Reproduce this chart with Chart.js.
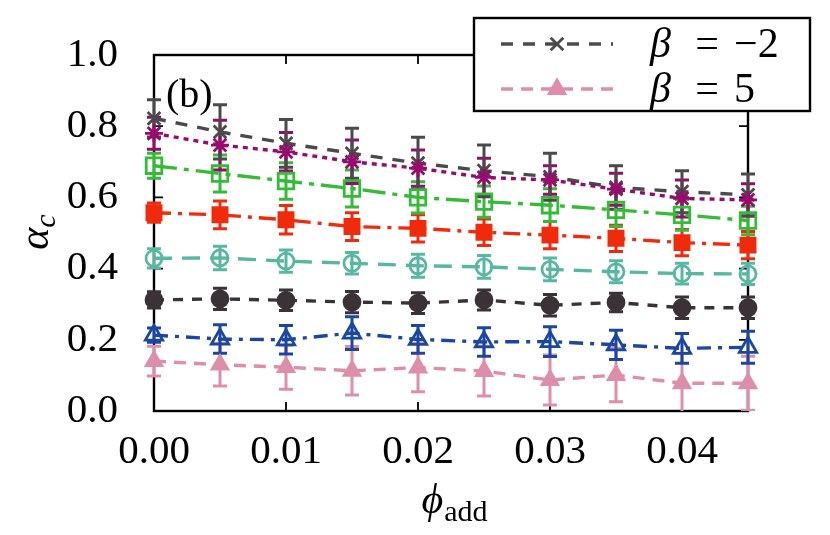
<!DOCTYPE html>
<html>
<head>
<meta charset="utf-8">
<script src="https://cdn.jsdelivr.net/npm/chart.js@4/dist/chart.umd.min.js"></script>
<style>
  body { margin: 0; background: #fff; }
  #wrap { width: 830px; height: 535px; }
</style>
</head>
<body>
<div id="wrap"><canvas id="alphaChart" width="830" height="535"></canvas></div>
<script>
// phi_add values (x)
const phiAdd = [0, 0.005, 0.01, 0.015, 0.02, 0.025, 0.03, 0.035, 0.04, 0.045];

// alpha_c for each curve, top to bottom, with error half-widths
const grayVals   = [0.822, 0.784, 0.752, 0.724, 0.696, 0.675, 0.658, 0.628, 0.616, 0.607];
const grayErr    = [0.052, 0.076, 0.067, 0.070, 0.073, 0.072, 0.066, 0.061, 0.059, 0.059];
const purpleVals = [0.780, 0.747, 0.728, 0.700, 0.682, 0.656, 0.649, 0.623, 0.597, 0.593];
const purpleErr  = [0.045, 0.070, 0.054, 0.061, 0.051, 0.054, 0.040, 0.045, 0.052, 0.045];
const greenVals  = [0.689, 0.667, 0.646, 0.625, 0.600, 0.588, 0.578, 0.565, 0.551, 0.535];
const greenErr   = [0.035, 0.052, 0.051, 0.052, 0.044, 0.044, 0.046, 0.047, 0.043, 0.040];
const redVals    = [0.557, 0.551, 0.537, 0.518, 0.513, 0.502, 0.494, 0.485, 0.473, 0.466];
const redErr     = [0.027, 0.039, 0.040, 0.039, 0.038, 0.037, 0.038, 0.037, 0.037, 0.038];
const tealVals   = [0.429, 0.430, 0.421, 0.415, 0.408, 0.405, 0.398, 0.391, 0.386, 0.385];
const tealErr    = [0.027, 0.033, 0.031, 0.030, 0.032, 0.032, 0.032, 0.031, 0.029, 0.030];
const darkVals   = [0.312, 0.315, 0.311, 0.306, 0.303, 0.312, 0.297, 0.305, 0.290, 0.290];
const darkErr    = [0.023, 0.030, 0.029, 0.030, 0.029, 0.028, 0.030, 0.026, 0.030, 0.030];
const blueVals   = [0.213, 0.202, 0.200, 0.219, 0.201, 0.194, 0.195, 0.186, 0.176, 0.179];
const blueErr    = [0.020, 0.040, 0.040, 0.046, 0.039, 0.040, 0.042, 0.041, 0.042, 0.045];
const pinkVals   = [0.140, 0.130, 0.123, 0.113, 0.122, 0.112, 0.087, 0.101, 0.078, 0.078];
const pinkErr    = [0.042, 0.060, 0.062, 0.068, 0.068, 0.070, 0.070, 0.075, 0.084, 0.076];

const yTicks = [0.0, 0.2, 0.4, 0.6, 0.8, 1.0];
const xTicks = [0.00, 0.01, 0.02, 0.03, 0.04];
const legendLabels = { gray: '\u22122', pink: '5' }; // beta values

const FONT = '"Liberation Serif", "DejaVu Serif", serif';

function series(id, vals, errs, color, style, radius, dash, filled, legend) {
  return {
    id: id,
    label: legend || '',
    data: phiAdd.map((x, i) => ({ x: x, y: vals[i] })),
    errors: errs,
    borderColor: color,
    borderWidth: 3.4,
    borderDash: dash,
    pointStyle: style,
    pointRadius: radius,
    pointBorderWidth: 2.8,
    pointBorderColor: color,
    pointBackgroundColor: filled ? color : 'rgba(0,0,0,0)',
    fill: false,
    tension: 0,
    clip: false
  };
}

const datasets = [
  series('pink',   pinkVals,   pinkErr,   '#dd8ea9', 'triangle',  9,  [12, 8],         true,  legendLabels.pink),
  series('blue',   blueVals,   blueErr,   '#1b47a3', 'triangle',  10, [14, 7, 4, 7],   false),
  series('dark',   darkVals,   darkErr,   '#3a3237', 'circle',    8,  [10, 9],         true),
  series('teal',   tealVals,   tealErr,   '#57b7a2', 'circle',    8,  [18, 10],        false),
  series('red',    redVals,    redErr,    '#f02b0c', 'rect',      10, [17, 7, 4, 7],   true),
  series('green',  greenVals,  greenErr,  '#35bb38', 'rect',      11, [23, 7, 5, 7],   false),
  series('purple', purpleVals, purpleErr, '#980a6e', 'star',      9,  [5, 5],          true),
  series('gray',   grayVals,   grayErr,   '#4a4a4a', 'crossRot',  9,  [12, 10],        true,  legendLabels.gray)
];

// frame with inward ticks, drawn under the data
const framePlugin = {
  id: 'frame',
  beforeDatasetsDraw(chart) {
    const { ctx, chartArea: a, scales } = chart;
    ctx.save();
    ctx.strokeStyle = '#000';
    ctx.lineWidth = 1.8;
    const tl = 9;
    xTicks.forEach(v => {
      const px = scales.x.getPixelForValue(v);
      ctx.beginPath();
      ctx.moveTo(px, a.bottom); ctx.lineTo(px, a.bottom - tl);
      ctx.moveTo(px, a.top); ctx.lineTo(px, a.top + tl);
      ctx.stroke();
    });
    yTicks.forEach(v => {
      const py = scales.y.getPixelForValue(v);
      ctx.beginPath();
      ctx.moveTo(a.left, py); ctx.lineTo(a.left + tl, py);
      ctx.moveTo(a.right, py); ctx.lineTo(a.right - tl, py);
      ctx.stroke();
    });
    ctx.lineWidth = 2.4;
    ctx.strokeRect(a.left, a.top, a.right - a.left, a.bottom - a.top);
    ctx.restore();
  }
};

// error bars from the y scale
const errorBarPlugin = {
  id: 'errbars',
  beforeDatasetsDraw(chart) {
    const { ctx, chartArea: a, scales } = chart;
    ctx.save();
    ctx.beginPath();
    ctx.rect(a.left - 20, a.top - 20, a.right - a.left + 40, a.bottom - a.top + 20);
    ctx.clip();
    chart.data.datasets.forEach(ds => {
      ctx.strokeStyle = ds.borderColor;
      ctx.lineWidth = 3;
      ds.data.forEach((p, i) => {
        const px = scales.x.getPixelForValue(p.x);
        const hi = scales.y.getPixelForValue(p.y + ds.errors[i]);
        const lo = scales.y.getPixelForValue(p.y - ds.errors[i]);
        const cap = 7;
        ctx.beginPath();
        ctx.moveTo(px, hi); ctx.lineTo(px, lo);
        ctx.moveTo(px - cap, hi); ctx.lineTo(px + cap, hi);
        ctx.moveTo(px - cap, lo); ctx.lineTo(px + cap, lo);
        ctx.stroke();
      });
    });
    ctx.restore();
  }
};

// axis titles, panel tag and legend box
const textPlugin = {
  id: 'texts',
  afterDraw(chart) {
    const { ctx } = chart;
    ctx.save();
    ctx.fillStyle = '#000';
    ctx.textBaseline = 'alphabetic';

    // (b)
    ctx.font = '40px ' + FONT;
    ctx.textAlign = 'left';
    ctx.fillText('(b)', 166, 107);

    // x title: phi_add
    ctx.font = 'italic 42px ' + FONT;
    const phiW = ctx.measureText('\u03d5').width;
    ctx.font = '30px ' + FONT;
    const addW = ctx.measureText('add').width;
    let x0 = 454 - (phiW + addW) / 2;
    ctx.font = 'italic 42px ' + FONT;
    ctx.fillText('\u03d5', x0, 513);
    ctx.font = '30px ' + FONT;
    ctx.fillText('add', x0 + phiW + 1, 521);

    // y title: alpha_c rotated
    ctx.translate(48, 232);
    ctx.rotate(-Math.PI / 2);
    ctx.font = 'italic 42px ' + FONT;
    const aW = ctx.measureText('\u03b1').width;
    ctx.font = 'italic 30px ' + FONT;
    const cW = ctx.measureText('c').width;
    const y0 = -(aW + cW) / 2;
    ctx.font = 'italic 42px ' + FONT;
    ctx.fillText('\u03b1', y0, 0);
    ctx.font = 'italic 30px ' + FONT;
    ctx.fillText('c', y0 + aW, 7);
    ctx.setTransform(1, 0, 0, 1, 0, 0);
    ctx.scale(chart.currentDevicePixelRatio, chart.currentDevicePixelRatio);

    // legend
    ctx.fillStyle = '#fff';
    ctx.fillRect(474, 18, 336, 93);
    ctx.strokeStyle = '#000';
    ctx.lineWidth = 2.4;
    ctx.strokeRect(474, 18, 336, 93);
    const items = ['gray', 'pink'].map(id => chart.data.datasets.find(d => d.id === id));
    items.forEach((ds, k) => {
      const ly = 44 + k * 45;
      ctx.save();
      ctx.strokeStyle = ds.borderColor;
      ctx.lineWidth = ds.borderWidth;
      ctx.setLineDash(ds.borderDash);
      ctx.beginPath();
      ctx.moveTo(501, ly); ctx.lineTo(613, ly);
      ctx.stroke();
      ctx.setLineDash([]);
      ctx.fillStyle = ds.pointBackgroundColor;
      ctx.strokeStyle = ds.pointBorderColor;
      ctx.lineWidth = ds.pointBorderWidth;
      Chart.helpers.drawPoint(ctx, { pointStyle: ds.pointStyle, radius: ds.pointRadius, rotation: 0, borderWidth: ds.pointBorderWidth }, 557, ly);
      ctx.restore();
      ctx.fillStyle = '#000';
      ctx.font = 'italic 42px ' + FONT;
      ctx.textAlign = 'left';
      ctx.fillText('\u03b2', 650, ly + 13);
      ctx.font = '42px ' + FONT;
      ctx.textAlign = 'center';
      ctx.fillText('=', 707, ly + 13);
      ctx.textAlign = 'left';
      ctx.fillText(ds.label, 734, ly + 13);
    });
    ctx.restore();
  }
};

new Chart(document.getElementById('alphaChart'), {
  type: 'line',
  data: { datasets: datasets },
  options: {
    responsive: false,
    animation: false,
    layout: { padding: { top: 55, right: 82, left: 0, bottom: 0 } },
    plugins: { legend: { display: false }, tooltip: { enabled: false } },
    scales: {
      x: {
        type: 'linear',
        min: 0,
        max: 0.045,
        afterFit(scale) { scale.height = 124; },
        afterBuildTicks(scale) { scale.ticks = xTicks.map(v => ({ value: v })); },
        grid: { display: false },
        border: { display: false },
        ticks: {
          font: { family: FONT, size: 41 },
          color: '#000',
          padding: 9,
          maxRotation: 0,
          callback: v => v.toFixed(2)
        }
      },
      y: {
        type: 'linear',
        min: 0,
        max: 1.0,
        afterFit(scale) { scale.width = 154; },
        afterBuildTicks(scale) { scale.ticks = yTicks.map(v => ({ value: v })); },
        grid: { display: false },
        border: { display: false },
        ticks: {
          font: { family: FONT, size: 41 },
          color: '#000',
          padding: 28,
          callback: v => v.toFixed(1)
        }
      }
    }
  },
  plugins: [framePlugin, errorBarPlugin, textPlugin]
});
</script>
</body>
</html>
